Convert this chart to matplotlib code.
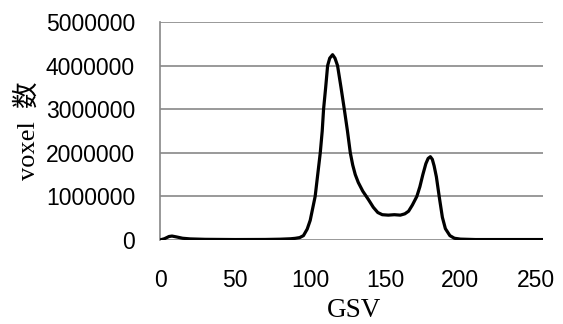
import matplotlib
matplotlib.use("Agg")
import matplotlib.pyplot as plt

# grey-scale value histogram (voxel counts)
gsv = [0, 3, 6, 8, 11, 15, 20, 30, 50, 70, 80, 87, 90, 93, 95.5, 98, 100,
       101.5, 103.3, 105, 106.7, 108, 108.9, 110.3, 111.6, 113, 114.9,
       116.5, 118.2, 120.5, 122.7, 124.8, 126.7, 128.3, 130, 132, 135,
       138.9, 142, 145, 148, 152, 156, 160, 163, 165.5, 168, 171, 173,
       175, 177, 178.5, 180, 181.3, 182.5, 184, 186, 188, 190, 193, 196,
       200, 210, 230, 255]
voxels = [0, 30000, 80000, 90000, 70000, 40000, 25000, 15000, 10000, 12000,
          18000, 28000, 38000, 55000, 100000, 250000, 450000, 700000,
          1000000, 1500000, 2000000, 2500000, 3000000, 3500000, 4000000,
          4170000, 4250000, 4170000, 4000000, 3500000, 3000000, 2500000,
          2000000, 1720000, 1500000, 1320000, 1120000, 920000, 750000,
          630000, 580000, 570000, 580000, 570000, 600000, 660000, 800000,
          1000000, 1220000, 1500000, 1750000, 1870000, 1910000, 1850000,
          1700000, 1450000, 970000, 520000, 260000, 100000, 40000, 20000,
          10000, 10000, 10000]

y_ticks = [0, 1000000, 2000000, 3000000, 4000000, 5000000]
x_ticks = [0, 50, 100, 150, 200, 250]

fig = plt.figure(figsize=(5.63, 3.24), dpi=100)
ax = fig.add_axes([0.2842, 0.2593, 0.6803, 0.6728])

ax.plot(gsv, voxels, color="black", linewidth=2.3, solid_joinstyle="round",
        solid_capstyle="round", zorder=3)

ax.set_xlim(0, 255)
ax.set_ylim(0, 5000000)
ax.set_xticks(x_ticks)
ax.set_yticks(y_ticks)
ax.set_xticklabels([str(t) for t in x_ticks], family="Liberation Sans", fontsize=16.5)
ax.set_yticklabels([str(t) for t in y_ticks], family="Liberation Sans", fontsize=16.5)
ax.tick_params(axis="both", length=0)
ax.tick_params(axis="x", pad=21)
ax.tick_params(axis="y", pad=18)

ax.grid(axis="y", color="#888888", linewidth=1.2, zorder=1)
for side in ["top", "right", "bottom"]:
    ax.spines[side].set_visible(False)
ax.spines["left"].set_color("#888888")
ax.spines["left"].set_linewidth(1.2)

label_font = ["Liberation Serif", "Noto Sans CJK JP"]
# x label sits right on the bottom edge of the figure
fig.text(0.628, 0.003, "GSV", family=label_font, fontsize=19.5,
         ha="center", va="bottom")
ax.set_ylabel("voxel  数", family=label_font, fontsize=19, labelpad=4)

fig.savefig("out.png", dpi=100)
